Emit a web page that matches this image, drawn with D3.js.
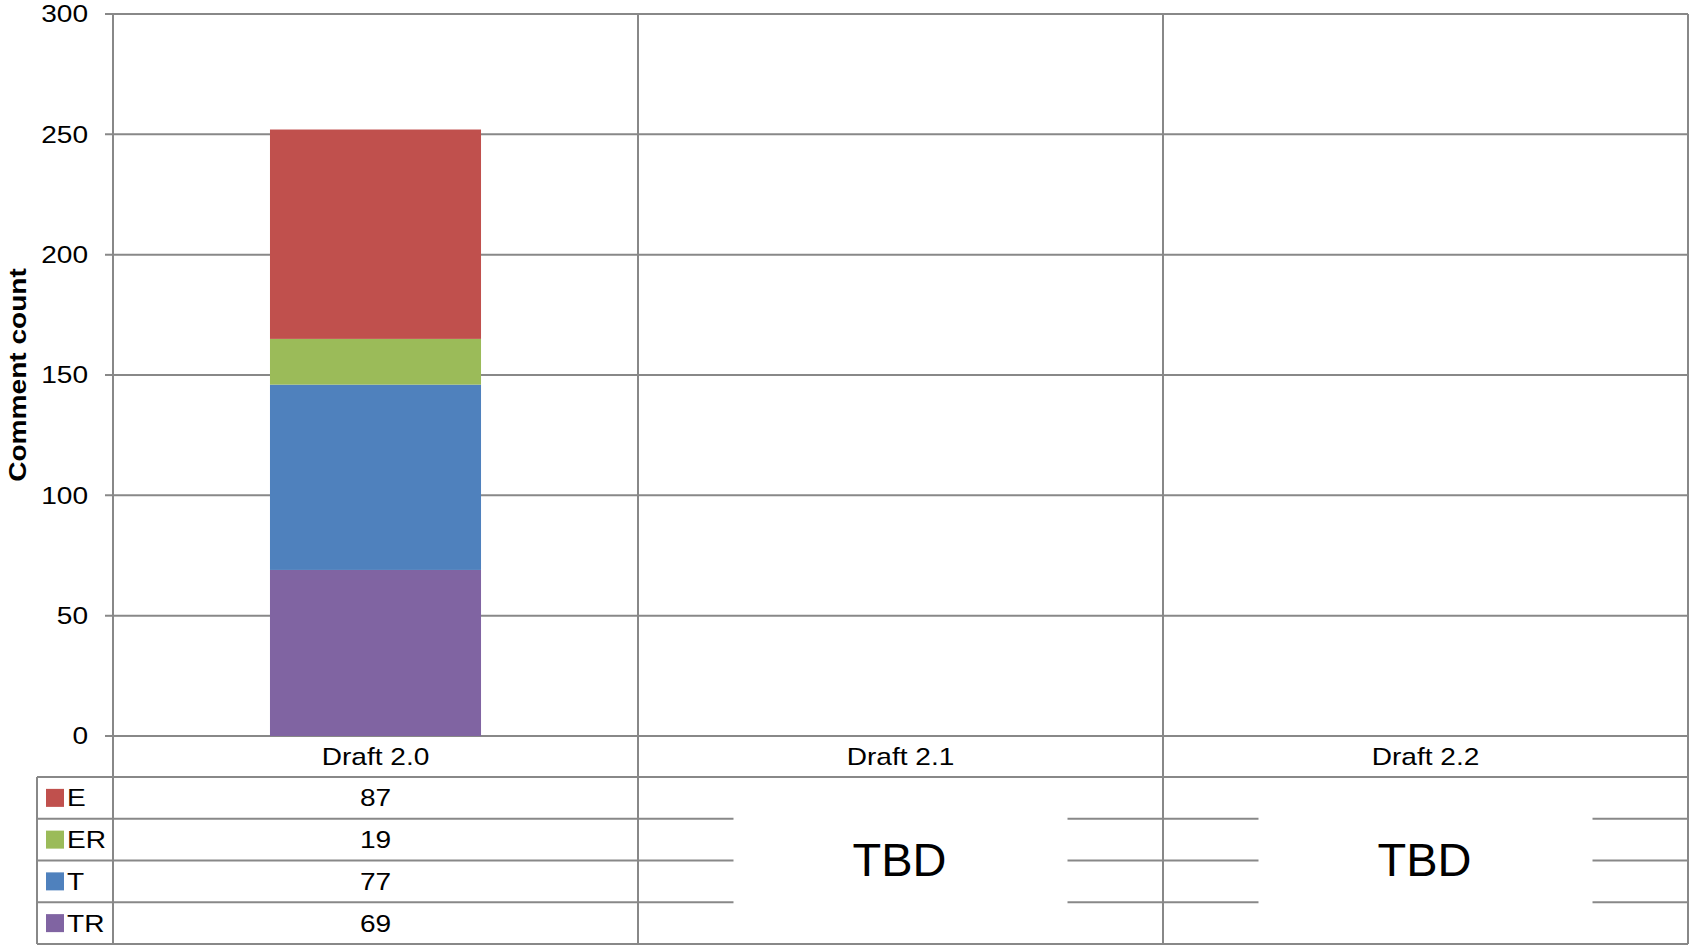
<!DOCTYPE html>
<html>
<head>
<meta charset="utf-8">
<script src="https://cdn.jsdelivr.net/npm/d3@7"></script>
<style>
  html, body { margin: 0; padding: 0; background: #fff; }
  svg { display: block; }
  text { font-family: "Liberation Sans", Arial, sans-serif; fill: #000; }
</style>
</head>
<body>
<svg id="chart" width="1690" height="946"></svg>
<script>
// ---- data ----
const categories = ["Draft 2.0", "Draft 2.1", "Draft 2.2"];
const seriesNames = ["E", "ER", "T", "TR"];
const valuesE  = [87, null, null];
const valuesER = [19, null, null];
const valuesT  = [77, null, null];
const valuesTR = [69, null, null];
const seriesColors = ["#C0504D", "#9BBB59", "#4F81BD", "#8064A2"];
const yTicks = [0, 50, 100, 150, 200, 250, 300];
const yTitle = "Comment count";
const pendingLabel = "TBD";

// ---- layout ----
const W = 1690, H = 946;
const plotLeft = 113, plotRight = 1688, plotTop = 14, plotBottom = 736;
const tableLeft = 37, headerH = 41, rowH = 41.75;
const gridColor = "#888888", gridW = 2;
const stretch = 1.17;

const svg = d3.select("#chart");

const x = d3.scaleBand().domain(categories).range([plotLeft, plotRight]).padding(0);
const y = d3.scaleLinear().domain([0, 300]).range([plotBottom, plotTop]);

const valueMap = { E: valuesE, ER: valuesER, T: valuesT, TR: valuesTR };
const colorOf = d3.scaleOrdinal().domain(seriesNames).range(seriesColors);

const rows = categories.map((c, i) => {
  const r = { cat: c };
  seriesNames.forEach(s => r[s] = valueMap[s][i] || 0);
  return r;
});
const stack = d3.stack().keys(["TR", "T", "ER", "E"])(rows);

function stretchedText(parent, px, py, txt, opts) {
  const g = parent.append("g").attr("transform", `translate(${px},${py})${opts.rotate ? " rotate(" + opts.rotate + ")" : ""}`);
  const t = g.append("text")
    .attr("transform", `scale(${opts.noStretch ? 1 : stretch},1)`)
    .attr("text-anchor", opts.anchor || "middle")
    .attr("dy", opts.dy || "0.35em")
    .style("font-size", (opts.size || 24) + "px")
    .style("font-weight", opts.bold ? "bold" : "normal")
    .text(txt);
  return t;
}

// ---- horizontal gridlines with tick marks ----
const gridG = svg.append("g");
gridG.selectAll("line.h").data(yTicks).join("line")
  .attr("x1", plotLeft - 8).attr("x2", plotRight)
  .attr("y1", d => y(d)).attr("y2", d => y(d))
  .attr("stroke", gridColor).attr("stroke-width", gridW);

// ---- bars ----
const barW = x.bandwidth() * 0.402;
svg.append("g").selectAll("g").data(stack).join("g")
  .attr("fill", d => colorOf(d.key))
  .selectAll("rect").data(d => d.filter(p => p[1] > p[0])).join("rect")
  .attr("x", d => x(d.data.cat) + (x.bandwidth() - barW) / 2)
  .attr("width", barW)
  .attr("y", d => y(d[1]))
  .attr("height", d => y(d[0]) - y(d[1]));

// ---- table ----
const tableTop = plotBottom + headerH;
const tableBottom = tableTop + rowH * seriesNames.length;
const tbl = svg.append("g");

// row lines
const rowLines = d3.range(seriesNames.length + 1).map(i => tableTop + i * rowH);
tbl.selectAll("line.r").data(rowLines).join("line")
  .attr("x1", tableLeft).attr("x2", plotRight)
  .attr("y1", d => d).attr("y2", d => d)
  .attr("stroke", gridColor).attr("stroke-width", gridW);
// left edge of table
tbl.append("line").attr("x1", tableLeft).attr("x2", tableLeft)
  .attr("y1", tableTop).attr("y2", tableBottom)
  .attr("stroke", gridColor).attr("stroke-width", gridW);

// white boxes for pending columns
categories.forEach((c, i) => {
  if (valuesE[i] == null) {
    const cx = x(c) + x.bandwidth() / 2;
    tbl.append("rect")
      .attr("x", cx - 167).attr("width", 334)
      .attr("y", tableTop + 4).attr("height", rowH * 4 - 8)
      .attr("fill", "#fff");
  }
});

// vertical lines (axis + column boundaries)
const vLines = [plotLeft].concat(categories.map(c => x(c) + x.bandwidth()));
tbl.selectAll("line.v").data(vLines).join("line")
  .attr("x1", d => d).attr("x2", d => d)
  .attr("y1", plotTop).attr("y2", tableBottom)
  .attr("stroke", gridColor).attr("stroke-width", gridW);

// ---- texts ----
const txt = svg.append("g");
// y tick labels
yTicks.forEach(t => stretchedText(txt, 88, y(t), t, { anchor: "end" }));
// y title
stretchedText(txt, 18, (plotTop + plotBottom) / 2, yTitle, { rotate: -90, bold: true });
// category headers
categories.forEach(c => stretchedText(txt, x(c) + x.bandwidth() / 2, plotBottom + headerH / 2, c, {}));
// legend keys and values
seriesNames.forEach((s, j) => {
  const cy = tableTop + j * rowH + rowH / 2;
  txt.append("rect").attr("x", 46).attr("y", cy - 9).attr("width", 18).attr("height", 18)
    .attr("fill", colorOf(s));
  stretchedText(txt, 67, cy, s, { anchor: "start" });
  categories.forEach((c, i) => {
    const v = valueMap[s][i];
    if (v != null) stretchedText(txt, x(c) + x.bandwidth() / 2, cy, v, {});
  });
});
// pending labels
categories.forEach((c, i) => {
  if (valuesE[i] == null) {
    stretchedText(txt, x(c) + x.bandwidth() / 2 - 1, (tableTop + tableBottom) / 2 - 1, pendingLabel,
      { size: 47, noStretch: true });
  }
});
</script>
</body>
</html>
